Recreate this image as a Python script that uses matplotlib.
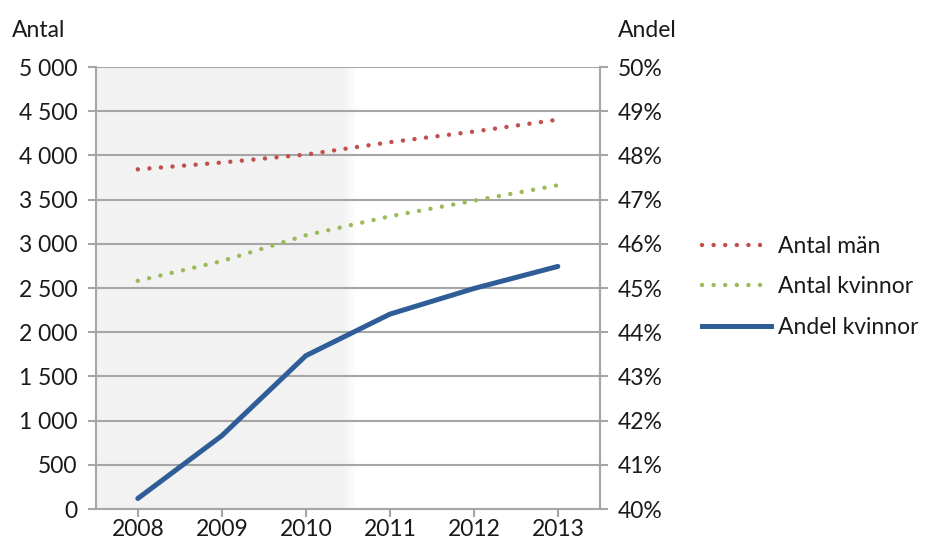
import numpy as np
import matplotlib.pyplot as plt
from matplotlib.lines import Line2D

years = ["2008", "2009", "2010", "2011", "2012", "2013"]
antal_man = [3843, 3920, 4010, 4150, 4270, 4405]
antal_kvinnor = [2582, 2805, 3097, 3312, 3488, 3663]
andel_kvinnor = [40.24, 41.66, 43.47, 44.41, 44.99, 45.49]

left_ticks = [0, 500, 1000, 1500, 2000, 2500, 3000, 3500, 4000, 4500, 5000]
right_ticks = [40, 41, 42, 43, 44, 45, 46, 47, 48, 49, 50]

plt.rcParams['font.family'] = ['Lato', 'DejaVu Sans']
FS = 16.5
GRID = '#a6a6a6'
TXT = '#1a1a1a'
RED, GREEN, BLUE = '#c0504d', '#9bbb59', '#2f5d97'

fig = plt.figure(figsize=(9.3, 5.54), dpi=100)
ax = fig.add_axes([0.103, 0.081, 0.542, 0.798])
x = np.arange(len(years))

# shaded period (2008-2010) with soft edge
ax.axvspan(-0.5, 2.45, color='#f2f2f2', lw=0, zorder=0)
edge = np.linspace(2.45, 2.6, 8)
for i in range(len(edge) - 1):
    a = 1 - (i + 1) / len(edge)
    ax.axvspan(edge[i], edge[i + 1], color='#f2f2f2', alpha=a, lw=0, zorder=0)

for t in left_ticks:
    ax.axhline(t, color=GRID, lw=1.5, zorder=1)

dots = (0, (0.01, 2.6))
ax.plot(x, antal_man, color=RED, lw=3.2, linestyle=dots, dash_capstyle='round', zorder=3)
ax.plot(x, antal_kvinnor, color=GREEN, lw=3.2, linestyle=dots, dash_capstyle='round', zorder=3)

ax.set_xlim(-0.5, 5.5)
ax.set_ylim(0, 5000)
ax.set_yticks(left_ticks)
ax.set_yticklabels([f"{t:,}".replace(",", " ") for t in left_ticks])
ax.set_xticks(x)
ax.set_xticklabels(years)
ax.tick_params(axis='both', labelsize=FS, colors=GRID, labelcolor=TXT, length=6, width=1.5)
ax.tick_params(axis='y', pad=7)
ax.tick_params(axis='x', pad=1)
ax.spines['top'].set_visible(False)
for s in ['left', 'bottom', 'right']:
    ax.spines[s].set_color(GRID)
    ax.spines[s].set_linewidth(1.5)

ax2 = ax.twinx()
ax2.plot(x, andel_kvinnor, color=BLUE, lw=3.6, solid_capstyle='round', zorder=4)
ax2.set_ylim(40, 50)
ax2.set_yticks(right_ticks)
ax2.set_yticklabels([f"{t}%" for t in right_ticks])
ax2.tick_params(axis='y', labelsize=FS, colors=GRID, labelcolor=TXT, length=6, width=1.5, pad=7)
for s in ['top', 'left', 'bottom']:
    ax2.spines[s].set_visible(False)
ax2.spines['right'].set_color(GRID)
ax2.spines['right'].set_linewidth(1.5)

fig.text(0.013, 0.945, "Antal", fontsize=FS, color=TXT, va='center')
fig.text(0.664, 0.945, "Andel", fontsize=FS, color=TXT, va='center')

handles = [
    Line2D([], [], color=RED, lw=3.2, linestyle=dots, dash_capstyle='round'),
    Line2D([], [], color=GREEN, lw=3.2, linestyle=dots, dash_capstyle='round'),
    Line2D([], [], color=BLUE, lw=3.6),
]
fig.legend(handles, ["Antal män", "Antal kvinnor", "Andel kvinnor"],
           loc='center left', bbox_to_anchor=(0.733, 0.482), frameon=False,
           fontsize=FS, handlelength=3.0, handletextpad=0.3, labelspacing=0.85,
           labelcolor=TXT)

fig.savefig("out.png", dpi=100)
